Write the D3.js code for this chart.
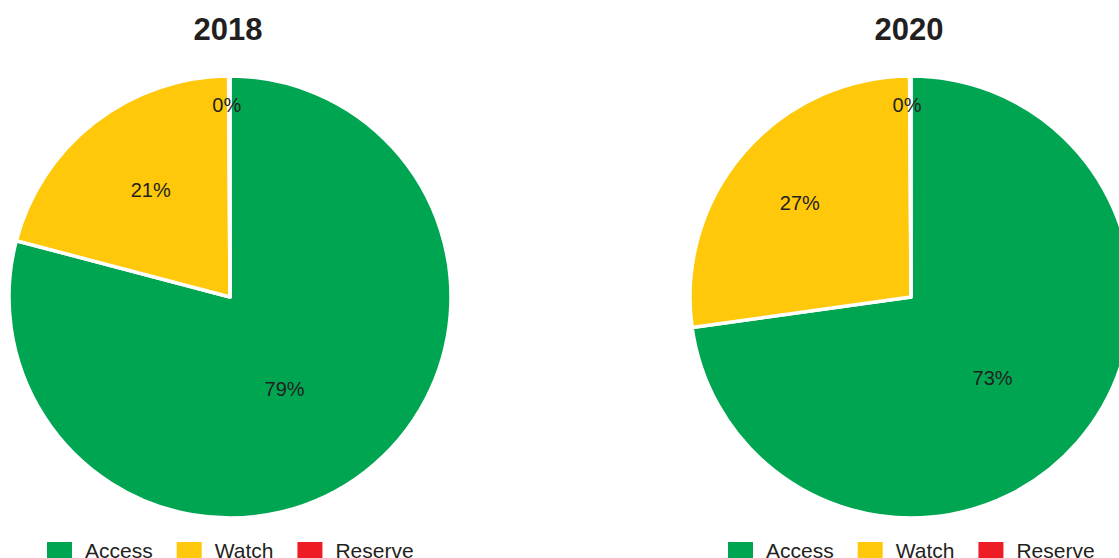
<!DOCTYPE html>
<html>
<head>
<meta charset="utf-8">
<script src="https://cdn.jsdelivr.net/npm/d3@7"></script>
<style>
  html, body { margin: 0; padding: 0; background: #ffffff; }
  svg { display: block; font-family: "Liberation Sans", Arial, Helvetica, sans-serif; }
</style>
</head>
<body>
<svg id="chart" width="1119" height="558"></svg>
<script>
// ---- data ----
const categories = ["Access", "Watch", "Reserve"];
const years = ["2018", "2020"];
const values2018 = [79.1, 20.8, 0.1];
const values2020 = [72.8, 27.1, 0.1];
const labels2018 = ["79%", "21%", "0%"];
const labels2020 = ["73%", "27%", "0%"];

// ---- style / layout ----
const colors = ["#00A551", "#FFC80B", "#EE1C25"];
const W = 1119, H = 558;
const radius = 221;
const centers = [{x: 230, y: 297}, {x: 911, y: 297}];
// label placement (fraction of radius, angular nudge in degrees)
const labelRadius = [[0.485, 0.605, 0.868], [0.52, 0.66, 0.868]];
const labelNudge = [[7, 1.4, -0.8], [3.7, -0.5, -1]];

const svg = d3.select("#chart");
const color = d3.scaleOrdinal().domain(categories).range(colors);
const pie = d3.pie().sort(null).value(d => d.v);
const arc = d3.arc().innerRadius(0).outerRadius(radius);

const datasets = [
  {year: years[0], values: values2018, labels: labels2018},
  {year: years[1], values: values2020, labels: labels2020}
];

datasets.forEach((ds, i) => {
  const c = centers[i];
  const g = svg.append("g").attr("transform", `translate(${c.x},${c.y})`);
  const rows = categories.map((k, j) => ({k, v: ds.values[j], label: ds.labels[j], j}));
  const arcs = pie(rows);

  g.selectAll("path.slice").data(arcs).enter().append("path")
    .attr("class", "slice")
    .attr("d", arc)
    .attr("fill", d => color(d.data.k))
    .attr("stroke", "#ffffff")
    .attr("stroke-width", 3.5)
    .attr("stroke-linejoin", "round");

  g.selectAll("text.lbl").data(arcs).enter().append("text")
    .attr("class", "lbl")
    .attr("x", d => {
      const a = (d.startAngle + d.endAngle) / 2 + labelNudge[i][d.data.j] * Math.PI / 180;
      return Math.sin(a) * radius * labelRadius[i][d.data.j];
    })
    .attr("y", d => {
      const a = (d.startAngle + d.endAngle) / 2 + labelNudge[i][d.data.j] * Math.PI / 180;
      return -Math.cos(a) * radius * labelRadius[i][d.data.j];
    })
    .attr("dy", "0.36em")
    .attr("text-anchor", "middle")
    .attr("font-size", 20)
    .attr("fill", "#231F20")
    .text(d => d.data.label);

  // title
  svg.append("text")
    .attr("x", c.x - 2)
    .attr("y", 40)
    .attr("text-anchor", "middle")
    .attr("font-size", 31)
    .attr("font-weight", "bold")
    .attr("fill", "#231F20")
    .text(ds.year);

  // legend
  const lg = svg.append("g").attr("transform", `translate(${c.x - 183},0)`);
  let xOff = 0;
  categories.forEach((k, j) => {
    lg.append("rect")
      .attr("x", xOff).attr("y", 542)
      .attr("width", 25).attr("height", 17)
      .attr("fill", color(k));
    const t = lg.append("text")
      .attr("x", xOff + 38).attr("y", 557.5)
      .attr("font-size", 21)
      .attr("fill", "#231F20")
      .text(k);
    xOff += 38 + t.node().getComputedTextLength() + 24;
  });
});
</script>
</body>
</html>
